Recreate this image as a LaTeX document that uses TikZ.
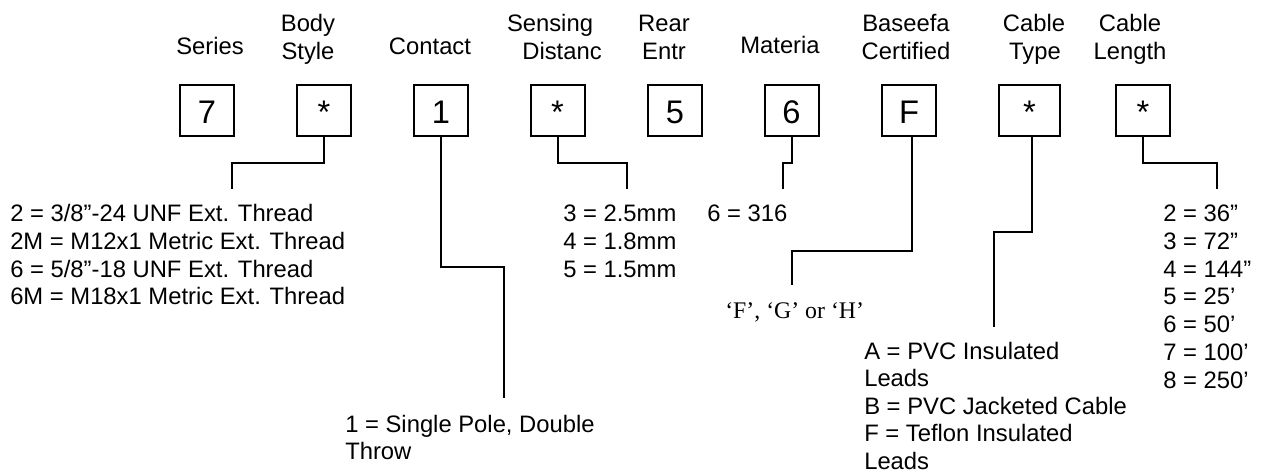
\documentclass[tikz,border=0pt]{standalone}
\usepackage{fontspec}
\setmainfont{Liberation Sans}
\newfontfamily\timesfont{Liberation Serif}
\begin{document}
\begin{tikzpicture}[x=0.75pt,y=-0.75pt,
  lbl/.style={font=\fontsize{17.85}{20}\selectfont, inner sep=0pt, anchor=base},
  desc/.style={font=\fontsize{17.85}{20}\selectfont, inner sep=0pt, anchor=base west},
  codebox/.style={draw, line width=1.5pt, minimum width=40.5pt, minimum height=38.25pt,
    inner sep=0pt, font=\fontsize{24.5}{26}\selectfont, text height=20pt, text depth=0pt},
  conn/.style={line width=1.5pt}]
\useasboundingbox (0,0) rectangle (1262,472);

% header labels
\node[lbl] (hSeries) at (210,54) {Series};
\node[lbl] (hBody1) at (308,31.5) {Body};
\node[lbl] (hBody2) at (308,59.5) {Style};
\node[lbl] (hContact) at (430,54) {Contact};
\node[lbl] (hSens1) at (550,31.5) {Sensing};
\node[lbl] (hSens2) at (562,59.5) {Distanc};
\node[lbl] (hRear1) at (664,31.5) {Rear};
\node[lbl] (hRear2) at (664,59.5) {Entr};
\node[lbl] (hMat) at (780,53.5) {Materia};
\node[lbl] (hBas1) at (906,31.5) {Baseefa};
\node[lbl] (hBas2) at (906,59.5) {Certified};
\node[lbl] (hCT1) at (1034,31) {Cable};
\node[lbl] (hCT2) at (1035,59) {Type};
\node[lbl] (hCL1) at (1130,31) {Cable};
\node[lbl] (hCL2) at (1130,59) {Length};

% code boxes
\node[codebox] (b1) at (207,110.65) {7};
\node[codebox] (b2) at (324,110.65) {*};
\node[codebox] (b3) at (441,110.65) {1};
\node[codebox] (b4) at (557.5,110.65) {*};
\node[codebox] (b5) at (675,110.65) {5};
\node[codebox] (b6) at (791.5,110.65) {6};
\node[codebox] (b7) at (909,110.65) {F};
\node[codebox, minimum width=45.75pt] (b8) at (1029.5,110.65) {*};
\node[codebox] (b9) at (1143,110.65) {*};

% descriptions
\foreach \t [count=\i] in {2 = 3/8”-24 UNF Ext. Thread, 2M = M12x1 Metric Ext. Thread,
  6 = 5/8”-18 UNF Ext. Thread, 6M = M18x1 Metric Ext. Thread}
  \node[desc] (dBody\i) at (10,{221.8+27.7*(\i-1)}) {\t};
\node[desc] (dCon1) at (345,432) {1 = Single Pole, Double};
\node[desc] (dCon2) at (345,459.5) {Throw};
\foreach \t [count=\i] in {3 = 2.5mm, 4 = 1.8mm, 5 = 1.5mm}
  \node[desc] (dSens\i) at (563,{221.8+27.7*(\i-1)}) {\t};
\node[desc] (dMat) at (707,221.8) {6 = 316};
\node[desc, font=\timesfont\fontsize{17.85}{20}\selectfont] (dBas) at (725,318) {‘F’, ‘G’ or ‘H’};
\foreach \t [count=\i] in {A = PVC Insulated, Leads, B = PVC Jacketed Cable,
  F = Teflon Insulated, Leads}
  \node[desc] (dCT\i) at (864,{359.5+27.4*(\i-1)}) {\t};
\foreach \t [count=\i] in {2 = 36”, 3 = 72”, 4 = 144”, 5 = 25’, 6 = 50’, 7 = 100’, 8 = 250’}
  \node[desc] (dCL\i) at (1163,{221.8+27.7*(\i-1)}) {\t};

% connector free ends
\coordinate (e2) at (232,189);
\coordinate (e3) at (504,398);
\coordinate (e4) at (627,189);
\coordinate (e6) at (783,189);
\coordinate (e7) at (792,285);
\coordinate (e8) at (994,327);
\coordinate (e9) at (1217,189);

% connectors
\draw[conn] (b2.south) -- ++(0,26) -| (e2);
\draw[conn] (b3.south) -- ++(0,130) -| (e3);
\draw[conn] (b4.south) -- ++(0,26) -| (e4);
\draw[conn] (b6.south) -- ++(0,26) -| (e6);
\draw[conn] ([xshift=2.25pt]b7.south) -- ++(0,114) -| (e7);
\draw[conn] ([xshift=1.9pt]b8.south) -- ++(0,95) -| (e8);
\draw[conn] (b9.south) -- ++(0,26) -| (e9);
\end{tikzpicture}
\end{document}
